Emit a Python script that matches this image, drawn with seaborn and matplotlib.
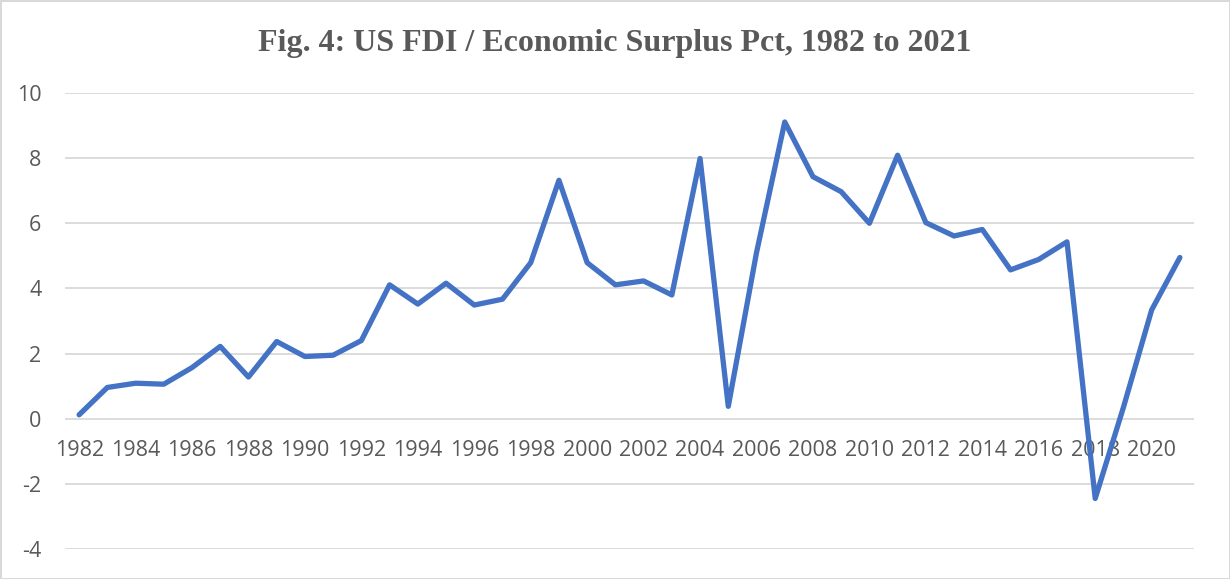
import numpy as np
import pandas as pd
import matplotlib
matplotlib.use("Agg")
import matplotlib.pyplot as plt
import seaborn as sns

# values
years = list(range(1982, 2022))
fdi_pct = [0.12, 0.96, 1.09, 1.06, 1.57, 2.22, 1.28, 2.37, 1.91, 1.95,
           2.40, 4.11, 3.52, 4.16, 3.49, 3.67, 4.79, 7.32, 4.79, 4.11,
           4.23, 3.80, 7.99, 0.38, 5.10, 9.11, 7.43, 6.97, 6.00, 8.09,
           6.02, 5.61, 5.81, 4.57, 4.89, 5.43, -2.45, 0.35, 3.34, 4.95]
x_ticks = list(range(1982, 2021, 2))
y_ticks = [-4, -2, 0, 2, 4, 6, 8, 10]
title = "Fig. 4: US FDI / Economic Surplus Pct, 1982 to 2021"

df = pd.DataFrame({"year": years, "pct": fdi_pct})

sns.set_style("white")
plt.rcParams["font.family"] = ["Open Sans", "DejaVu Sans"]

text_gray = "#595959"
grid_gray = "#D9D9D9"

fig = plt.figure(figsize=(12.3, 5.79), dpi=100)
fig.patch.set_edgecolor(grid_gray)
fig.patch.set_linewidth(2)
ax = fig.add_axes([65 / 1230, 1 - 549 / 579, (1194 - 65) / 1230, (549 - 93) / 579])

sns.lineplot(data=df, x="year", y="pct", ax=ax, color="#4472C4", linewidth=3.8,
             solid_joinstyle="round", solid_capstyle="round")

ax.set_xlim(1981.5, 2021.5)
ax.set_ylim(-4, 10)
ax.set_yticks(y_ticks)
ax.set_yticklabels([str(v) for v in y_ticks])
ax.set_xticks(x_ticks)
ax.set_xticklabels([str(v) for v in x_ticks])
ax.yaxis.grid(True, color=grid_gray, linewidth=1.3)
ax.set_axisbelow(True)
for s in ["top", "right", "left"]:
    ax.spines[s].set_visible(False)
ax.spines["bottom"].set_position(("data", 0))
ax.spines["bottom"].set_visible(False)
ax.tick_params(axis="x", length=0, pad=15, labelsize=15.5, labelcolor=text_gray)
ax.tick_params(axis="y", length=0, pad=17, labelsize=15.5, labelcolor=text_gray)
ax.set_xlabel("")
ax.set_ylabel("")

fig.text(0.5, 1 - 44 / 579, title, ha="center", va="center", fontsize=23,
         fontweight="bold", color=text_gray, family=["Liberation Serif"])

fig.savefig("out.png", dpi=100, edgecolor=fig.get_edgecolor())
